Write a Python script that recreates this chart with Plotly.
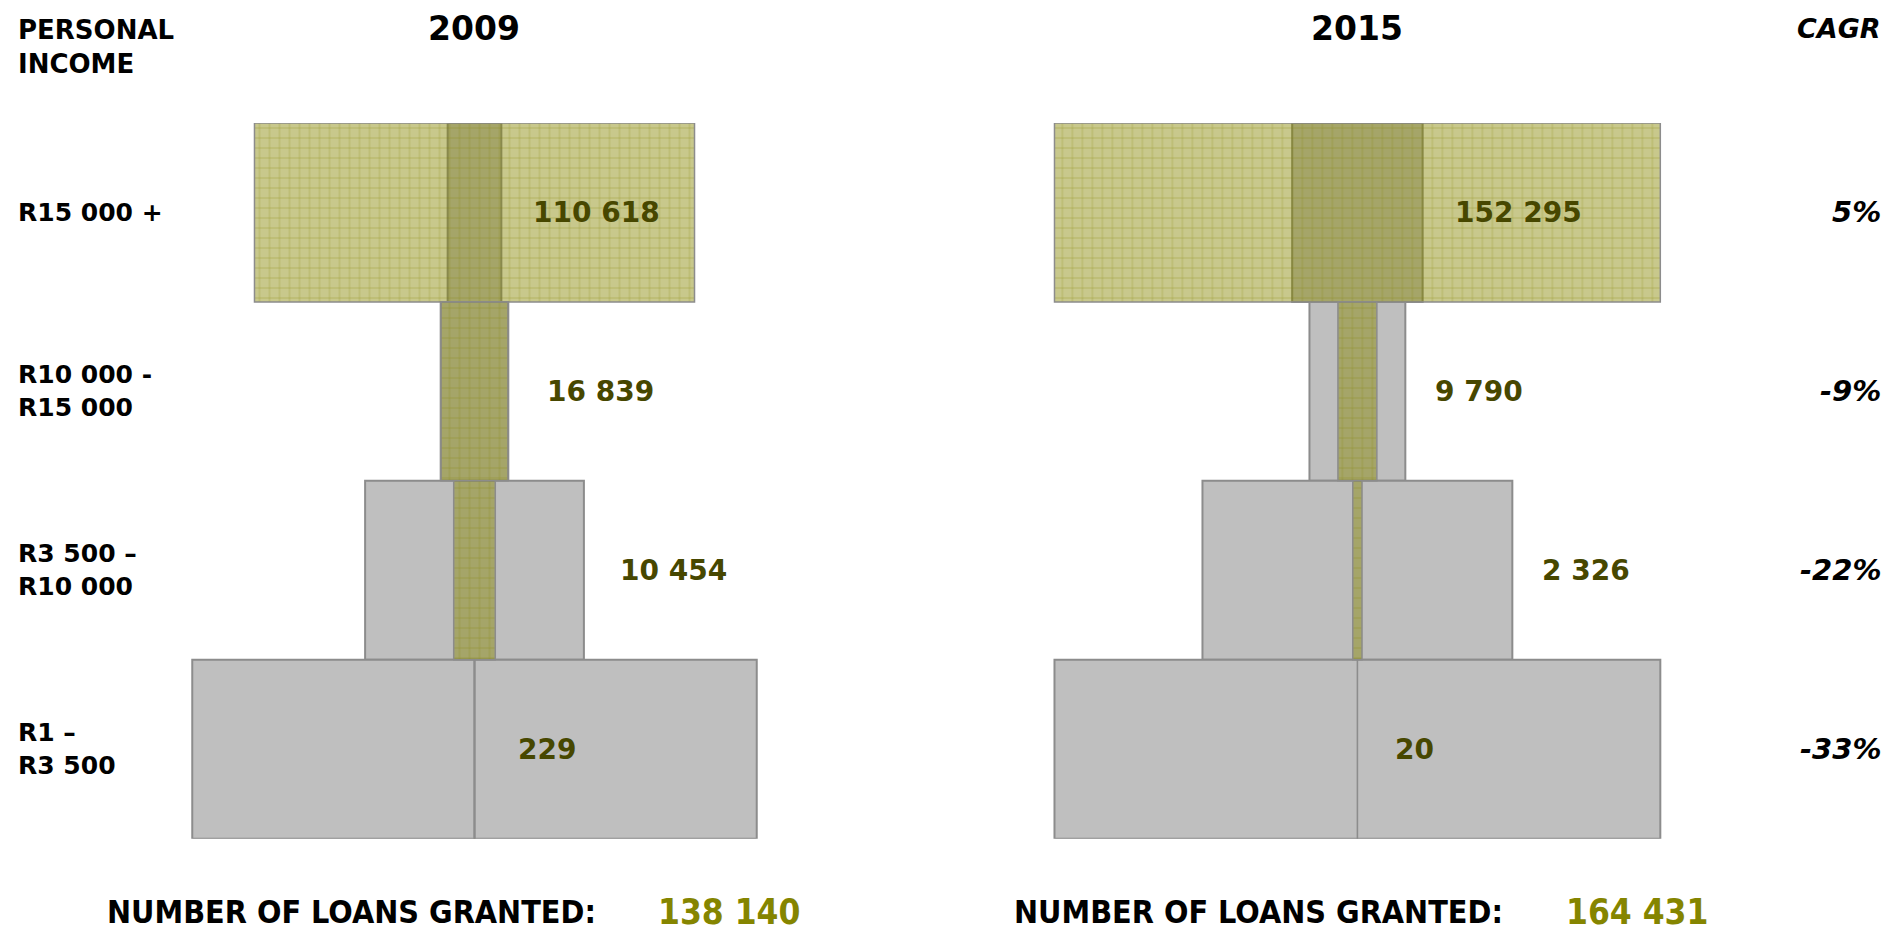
import plotly.graph_objects as go

# ---- data -------------------------------------------------------------
income_bands = ["R15 000 +", "R10 000 -<br>R15 000", "R3 500 –<br>R10 000", "R1 –<br>R3 500"]
years = ["2009", "2015"]
loans_2009 = [110618, 16839, 10454, 229]       # olive bars (loans granted)
loans_2015 = [152295, 9790, 2326, 20]
base_2009 = [13500, 17000, 55000, 141900]      # grey base bars
base_2015 = [32800, 24100, 77900, 152300]
cagr = ["5%", "-9%", "-22%", "-33%"]

# ---- layout constants -------------------------------------------------
W, H = 1890, 933
PPU = 3.978 / 1000.0          # pixels per unit on both panels
HALF = 330                    # half width of each panel in pixels
centers_px = [474.5, 1357.4]  # horizontal centre of each panel
plot_top, plot_bottom = 123.0, 838.7
label_offsets = [[56.5, 70, 143, 41.5], [96, 76, 183, 36]]

GREY = "#bfbfbf"
EDGE = "#8c8c8c"
OLIVE_FILL = "rgba(133,133,0,0.45)"
OLIVE_GRID = "rgba(128,128,0,0.9)"
VALUE_COL = "#474700"
TOTAL_COL = "#858500"
FONT = "DejaVu Sans"
COND = "DejaVu Sans Condensed, DejaVu Sans"

rows = list(range(len(income_bands)))[::-1]   # top band drawn highest


def fmt(n):
    return f"{n:,}".replace(",", " ")


fig = go.Figure()
panels = [(loans_2009, base_2009), (loans_2015, base_2015)]
for i, (loans, base) in enumerate(panels):
    xa = "x" if i == 0 else "x2"
    fig.add_trace(go.Bar(
        orientation="h", y=rows, x=base, base=[-v / 2 for v in base],
        width=1, xaxis=xa, yaxis="y",
        marker=dict(color=GREY, line=dict(color=EDGE, width=2)),
        hoverinfo="skip", showlegend=False,
    ))
    fig.add_trace(go.Bar(
        orientation="h", y=rows, x=loans, base=[-v / 2 for v in loans],
        width=1, xaxis=xa, yaxis="y",
        marker=dict(
            color=OLIVE_FILL,
            line=dict(color=EDGE, width=1.5),
            pattern=dict(shape="+", fgcolor=OLIVE_GRID, bgcolor=OLIVE_FILL,
                         size=10, solidity=0.13),
        ),
        hoverinfo="skip", showlegend=False,
    ))

span = HALF / PPU
axis_common = dict(range=[-span, span], visible=False, fixedrange=True)
layout = dict(
    width=W, height=H, autosize=False,
    margin=dict(l=0, r=0, t=0, b=0),
    paper_bgcolor="white", plot_bgcolor="rgba(0,0,0,0)",
    barmode="overlay",
    xaxis=dict(domain=[(centers_px[0] - HALF) / W, (centers_px[0] + HALF) / W], **axis_common),
    xaxis2=dict(domain=[(centers_px[1] - HALF) / W, (centers_px[1] + HALF) / W], **axis_common),
    yaxis=dict(domain=[1 - plot_bottom / H, 1 - plot_top / H], range=[-0.5, len(rows) - 0.5],
               visible=False, fixedrange=True),
)
fig.update_layout(**layout)


def py(y):
    return 1 - y / H


ann = []
# column headers
ann.append(dict(text="<b>PERSONAL<br>INCOME</b>", x=16 / W, y=py(47), xref="paper", yref="paper",
                xanchor="left", yanchor="middle", align="left", showarrow=False,
                font=dict(family=FONT, size=26, color="black")))
for i, yr in enumerate(years):
    ann.append(dict(text=f"<b>{yr}</b>", x=centers_px[i] / W, y=py(29), xref="paper", yref="paper",
                    xanchor="center", yanchor="middle", showarrow=False,
                    font=dict(family=FONT, size=33, color="black")))
ann.append(dict(text="<b><i>CAGR</i></b>", x=1883 / W, y=py(29), xref="paper", yref="paper",
                xanchor="right", yanchor="middle", showarrow=False,
                font=dict(family=FONT, size=27, color="black")))

# income band labels and CAGR values
for r, band, g in zip(rows, income_bands, cagr):
    ann.append(dict(text=f"<b>{band}</b>", x=16 / W, y=r, xref="paper", yref="y",
                    xanchor="left", yanchor="middle", align="left", showarrow=False,
                    font=dict(family=FONT, size=25, color="black")))
    ann.append(dict(text=f"<b><i>{g}</i></b>", x=1883 / W, y=r, xref="paper", yref="y",
                    xanchor="right", yanchor="middle", showarrow=False,
                    font=dict(family=FONT, size=29, color="black")))

# value labels
for i, (loans, _) in enumerate(panels):
    xa = "x" if i == 0 else "x2"
    for r, v, off in zip(rows, loans, label_offsets[i]):
        ann.append(dict(text=f"<b>{fmt(v)}</b>", x=off / PPU, y=r, xref=xa, yref="y",
                        xanchor="left", yanchor="middle", showarrow=False,
                        font=dict(family=FONT, size=28, color=VALUE_COL)))

# totals
totals = [sum(loans_2009), sum(loans_2015)]
caption_x = [105, 1012]
total_x = [657, 1565]
for i, t in enumerate(totals):
    ann.append(dict(text="<b>NUMBER OF LOANS GRANTED:</b>", x=caption_x[i] / W, y=py(912),
                    xref="paper", yref="paper", xanchor="left", yanchor="middle", showarrow=False,
                    font=dict(family=COND, size=32, color="black")))
    ann.append(dict(text=f"<b>{fmt(t)}</b>", x=total_x[i] / W, y=0,
                    xref="paper", yref="paper", xanchor="left", yanchor="bottom", showarrow=False,
                    borderpad=0, font=dict(family=COND, size=35, color=TOTAL_COL)))

fig.update_layout(annotations=ann)
fig.write_html("out.html", config={"displayModeBar": False})
